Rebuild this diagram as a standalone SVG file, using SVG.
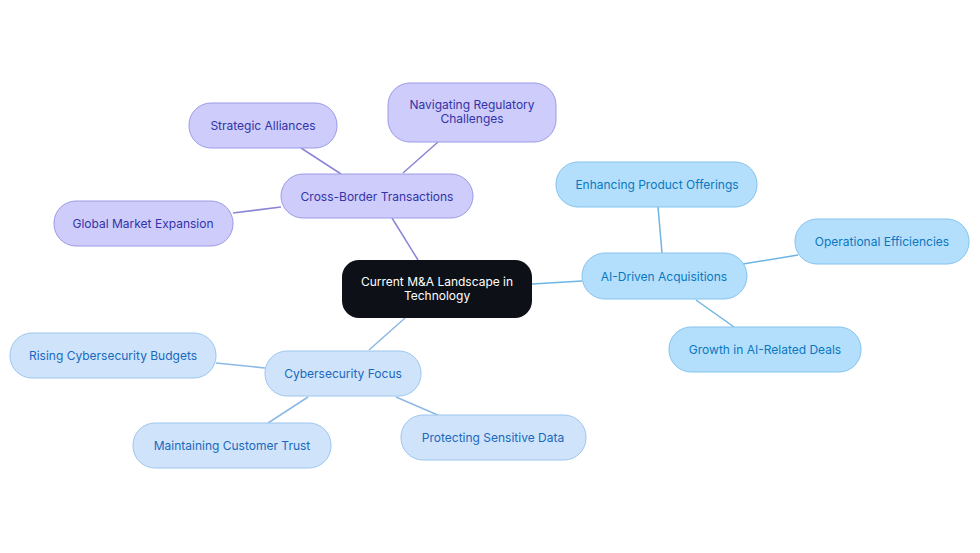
<svg xmlns="http://www.w3.org/2000/svg" width="980" height="553" viewBox="0 0 980 553">
<style>
text{font-family:Inter,"Noto Sans","Liberation Sans",sans-serif;font-size:12px;text-anchor:middle;dominant-baseline:central}
.p rect{fill:#cdccfa;stroke:#9c9ae6;stroke-width:1}
.p text{fill:#3433a8}
.a rect{fill:#b4dffc;stroke:#84c3ee;stroke-width:1}
.a text{fill:#0a78c0}
.c rect{fill:#cfe4fa;stroke:#9cc5ee;stroke-width:1}
.c text{fill:#1a68bd}
.root rect{fill:#0d1117}
.root text{fill:#ffffff}
#edges line{stroke-width:1.5;fill:none}
.ep{stroke:#8a85d6}
.ea{stroke:#6db5e3}
.ec{stroke:#8cb8e6}
</style>
<rect width="980" height="553" fill="#ffffff"/>
<g id="edges">
<line class="ep" x1="418" y1="260" x2="392" y2="218"/>
<line class="ep" x1="341" y1="174" x2="301" y2="148"/>
<line class="ep" x1="403" y1="173" x2="438" y2="142"/>
<line class="ep" x1="281" y1="207" x2="233" y2="213"/>
<line class="ea" x1="532" y1="284" x2="582" y2="281"/>
<line class="ea" x1="662" y1="253" x2="658" y2="207"/>
<line class="ea" x1="743" y1="264" x2="798" y2="255"/>
<line class="ea" x1="696" y1="300" x2="734" y2="327"/>
<line class="ec" x1="405" y1="318" x2="369" y2="350"/>
<line class="ec" x1="265" y1="368" x2="216" y2="363"/>
<line class="ec" x1="308" y1="397" x2="268" y2="423"/>
<line class="ec" x1="396" y1="397" x2="440" y2="416"/>
</g>
<g id="root" class="root"><rect x="342" y="260" width="190" height="58" rx="17"/><text x="437" y="281">Current M&amp;A Landscape in</text><text x="437" y="295">Technology</text></g>
<g id="cross-border" class="p"><rect x="281" y="174" width="192" height="44" rx="22"/><text x="377" y="196">Cross-Border Transactions</text></g>
<g id="strategic" class="p"><rect x="189" y="103" width="148" height="45" rx="22"/><text x="263" y="125">Strategic Alliances</text></g>
<g id="regulatory" class="p"><rect x="388" y="83" width="168" height="59" rx="22"/><text x="472" y="104">Navigating Regulatory</text><text x="472" y="118">Challenges</text></g>
<g id="global" class="p"><rect x="54" y="201" width="179" height="45" rx="22"/><text x="143" y="223">Global Market Expansion</text></g>
<g id="ai" class="a"><rect x="582" y="253" width="165" height="46" rx="23"/><text x="664" y="276">AI-Driven Acquisitions</text></g>
<g id="product" class="a"><rect x="556" y="162" width="201" height="45" rx="22"/><text x="657" y="184">Enhancing Product Offerings</text></g>
<g id="operational" class="a"><rect x="795" y="219" width="174" height="45" rx="22"/><text x="882" y="241">Operational Efficiencies</text></g>
<g id="growth" class="a"><rect x="669" y="327" width="192" height="45" rx="22"/><text x="765" y="349">Growth in AI-Related Deals</text></g>
<g id="cyber" class="c"><rect x="265" y="351" width="156" height="45" rx="22"/><text x="343" y="373">Cybersecurity Focus</text></g>
<g id="rising" class="c"><rect x="10" y="333" width="206" height="45" rx="22"/><text x="113" y="355">Rising Cybersecurity Budgets</text></g>
<g id="trust" class="c"><rect x="133" y="423" width="198" height="45" rx="22"/><text x="232" y="445">Maintaining Customer Trust</text></g>
<g id="protect" class="c"><rect x="401" y="415" width="185" height="45" rx="22"/><text x="493" y="437">Protecting Sensitive Data</text></g>
</svg>
